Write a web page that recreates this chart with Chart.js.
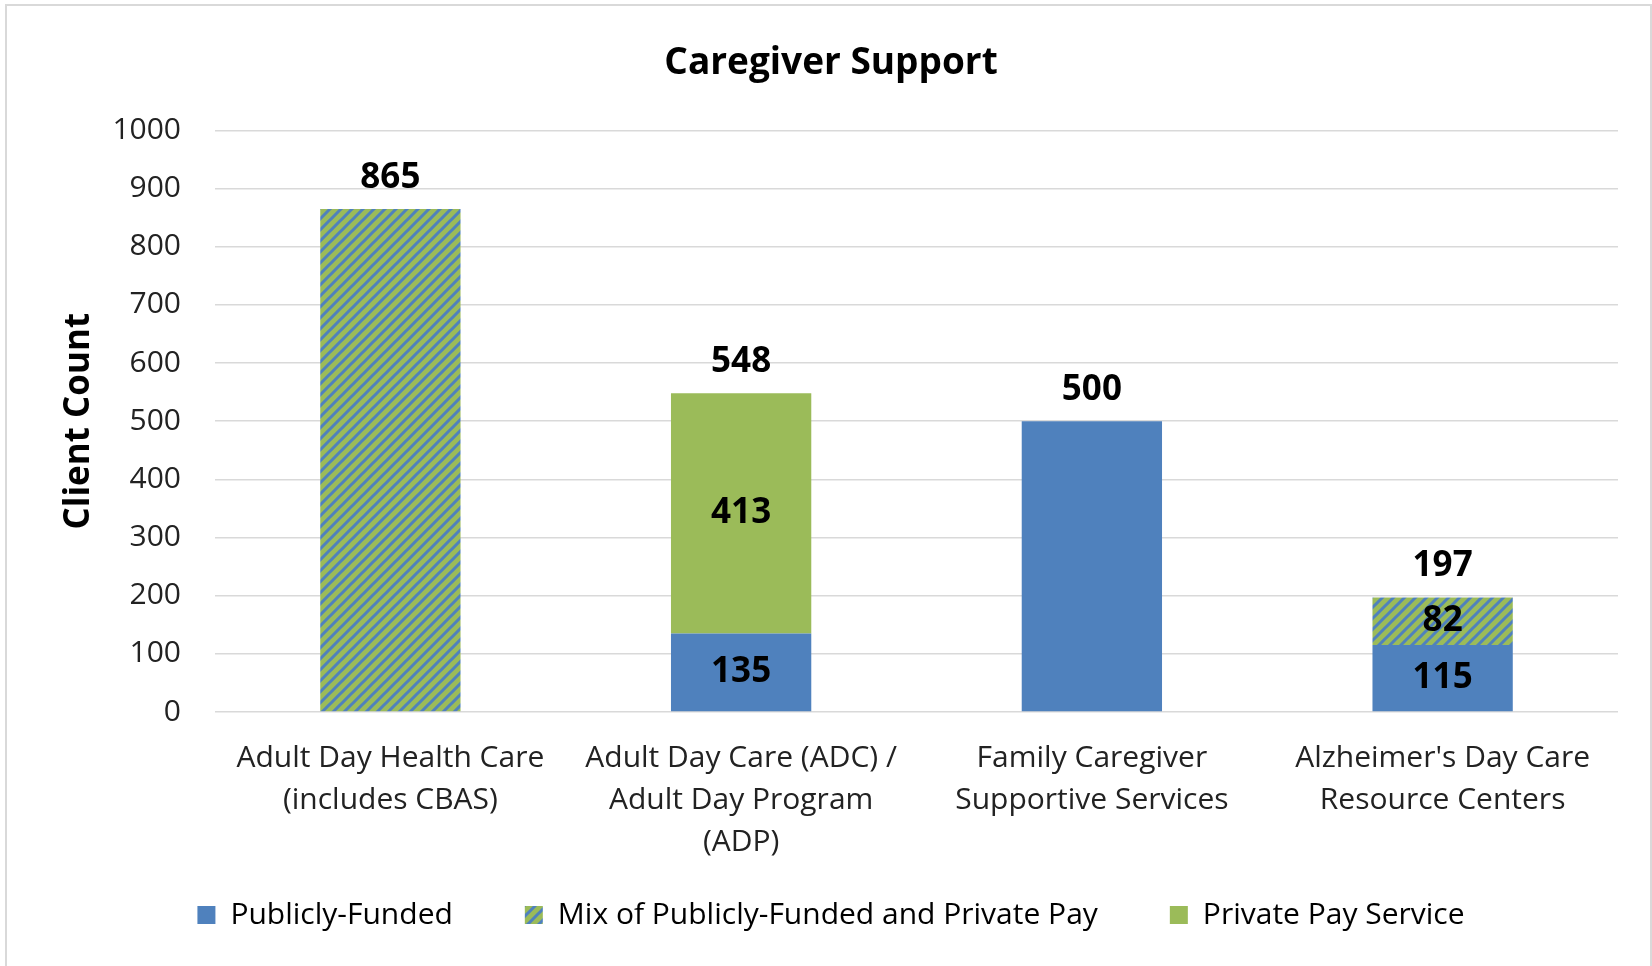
<!DOCTYPE html>
<html>
<head>
<meta charset="utf-8">
<title>Caregiver Support</title>
<script src="https://cdn.jsdelivr.net/npm/chart.js@4.4.1/dist/chart.umd.min.js"></script>
<style>
    html, body { margin: 0; padding: 0; background: #fff; overflow: hidden; }
    #frame { position: absolute; left: 5px; top: 4px; width: 1643px; height: 1000px; border: 2px solid #d9d9d9; }
    #chart { position: absolute; left: 0; top: 0; }
</style>
</head>
<body>
<div id="frame"></div>
<canvas id="chart" width="1652" height="966"></canvas>
<script>
// Caregiver Support - client counts per service type

const categories = [
    ['Adult Day Health Care', '(includes CBAS)'],
    ['Adult Day Care (ADC) /', 'Adult Day Program', '(ADP)'],
    ['Family Caregiver', 'Supportive Services'],
    ["Alzheimer's Day Care", 'Resource Centers']
];
const seriesNames = ['Publicly-Funded', 'Mix of Publicly-Funded and Private Pay', 'Private Pay Service'];
const publiclyFunded = [null, 135, 500, 115];
const mixFunded = [865, null, null, 82];
const privatePay = [null, 413, null, null];
const yMin = 0;
const yMax = 1000;
const yStep = 100;

const FONT = '"Open Sans", "Noto Sans", sans-serif';
const BLUE = '#4F81BD';
const GREEN = '#9BBB59';

// wide upward diagonal stripes, blue on green
function makeHatch(bg, fg) {
    const size = 11;
    const c = document.createElement('canvas');
    c.width = size;
    c.height = size;
    const g = c.getContext('2d');
    g.fillStyle = bg;
    g.fillRect(0, 0, size, size);
    g.strokeStyle = fg;
    g.lineWidth = 3;
    g.beginPath();
    g.moveTo(-size, size); g.lineTo(size, -size);
    g.moveTo(0, size); g.lineTo(size, 0);
    g.moveTo(0, 2 * size); g.lineTo(2 * size, 0);
    g.stroke();
    return g.createPattern(c, 'repeat');
}

// segment values inside stacks, totals above
const valueLabels = {
    id: 'valueLabels',
    afterDatasetsDraw(chart) {
        const ctx = chart.ctx;
        const yScale = chart.scales.y;
        ctx.save();
        ctx.font = 'bold 35px ' + FONT;
        ctx.fillStyle = '#000';
        ctx.textAlign = 'center';
        ctx.textBaseline = 'middle';
        categories.forEach((cat, i) => {
            let total = 0, parts = 0, x = null;
            chart.data.datasets.forEach(ds => {
                if (ds.data[i]) { total += ds.data[i]; parts++; }
            });
            chart.data.datasets.forEach((ds, d) => {
                const v = ds.data[i];
                if (!v) return;
                const bar = chart.getDatasetMeta(d).data[i].getProps(['x', 'y', 'base'], true);
                x = bar.x;
                if (parts > 1) ctx.fillText(v, bar.x, (bar.y + bar.base) / 2);
            });
            if (x !== null) ctx.fillText(total, x, yScale.getPixelForValue(total) - 31);
        });
        ctx.restore();
    }
};

// x labels run below the short axis box, so widen its clip area
const labelRoom = {
    id: 'labelRoom',
    afterLayout(chart) {
        chart.scales.x.bottom = chart.scales.x.top + 170;
    }
};

document.addEventListener('DOMContentLoaded', function() {
    const ctx = document.getElementById('chart').getContext('2d');
    const hatch = makeHatch(GREEN, BLUE);

    new Chart(ctx, {
        type: 'bar',
        data: {
            labels: categories,
            datasets: [
                { label: seriesNames[0], data: publiclyFunded, backgroundColor: BLUE },
                { label: seriesNames[1], data: mixFunded, backgroundColor: hatch },
                { label: seriesNames[2], data: privatePay, backgroundColor: GREEN }
            ]
        },
        options: {
            responsive: false,
            animation: false,
            datasets: {
                bar: { barPercentage: 0.4, categoryPercentage: 1, borderWidth: 0 }
            },
            layout: {
                padding: { left: 44, right: 34, top: 0, bottom: 26 }
            },
            plugins: {
                title: {
                    display: true,
                    text: 'Caregiver Support',
                    color: '#000',
                    font: { family: FONT, size: 37, weight: 'bold' },
                    padding: { top: 41, bottom: 45 }
                },
                legend: {
                    position: 'bottom',
                    labels: {
                        color: '#000',
                        font: { family: FONT, size: 30 },
                        boxWidth: 18,
                        boxHeight: 18,
                        padding: 72
                    }
                },
                tooltip: { enabled: false }
            },
            scales: {
                x: {
                    stacked: true,
                    grid: { display: false },
                    border: { display: false },
                    ticks: {
                        color: '#222',
                        font: { family: FONT, size: 30, lineHeight: 1.4 },
                        padding: 17,
                        maxRotation: 0,
                        autoSkip: false
                    },
                    afterFit: function(scale) { scale.height = 116; }
                },
                y: {
                    stacked: true,
                    min: yMin,
                    max: yMax,
                    grid: { color: '#d9d9d9', lineWidth: 1.5, drawTicks: false },
                    border: { display: false },
                    ticks: {
                        stepSize: yStep,
                        color: '#222',
                        font: { family: FONT, size: 30 },
                        padding: 34,
                        callback: function(value) { return String(value); }
                    },
                    title: {
                        display: true,
                        text: 'Client Count',
                        color: '#000',
                        font: { family: FONT, size: 35, weight: 'bold' },
                        padding: { top: 14, bottom: 0 }
                    },
                    afterFit: function(scale) { scale.width = 171; }
                }
            }
        },
        plugins: [valueLabels, labelRoom]
    });
});
</script>
</body>
</html>
